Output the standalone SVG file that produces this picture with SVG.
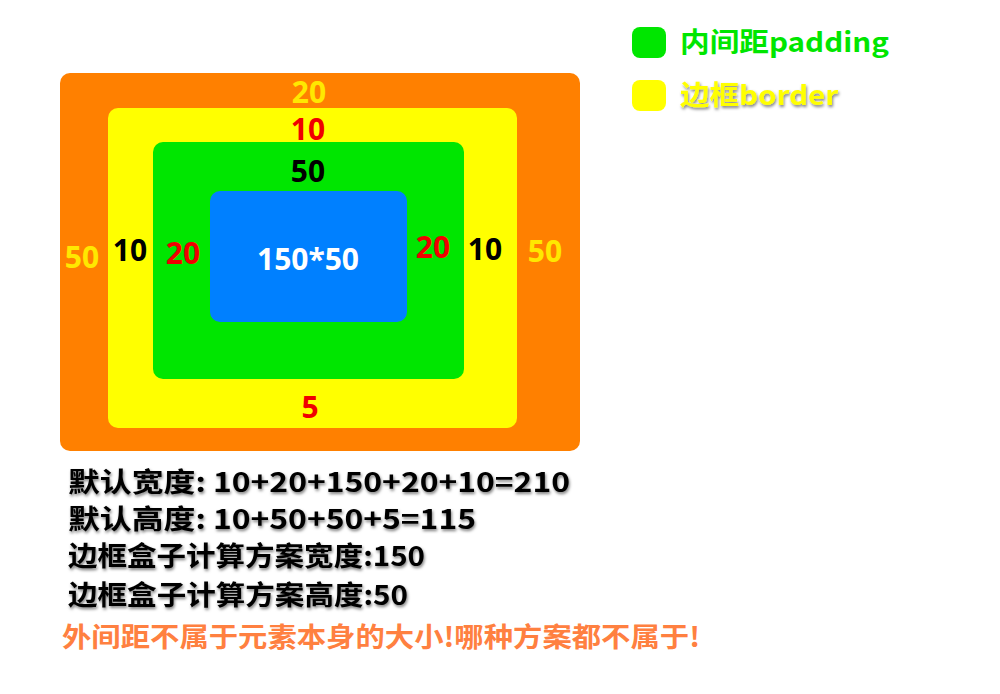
<svg xmlns="http://www.w3.org/2000/svg" width="1000" height="694" viewBox="0 0 1000 694">
<defs>
<filter id="sh" x="-5%" y="-30%" width="110%" height="160%"><feDropShadow dx="1" dy="2" stdDeviation="1.5" flood-color="#000" flood-opacity="0.5"/></filter>
<style>
.n{font-family:"Noto Sans","Open Sans",sans-serif;font-weight:bold;font-size:30px;text-anchor:middle;dominant-baseline:central}
.y{fill:#FFE800}.r{fill:#F00000}.k{fill:#000}
.t{font-family:"Noto Sans CJK SC","Noto Sans",sans-serif;font-weight:bold;font-size:27px}
</style>
</defs>
<rect width="1000" height="694" fill="#fff"/>
<g id="margin"><rect x="60" y="73" width="520" height="378" rx="10" fill="#FF8000"/></g>
<g id="border"><rect x="108" y="108" width="409" height="320" rx="10" fill="#FFFF00"/></g>
<g id="padding"><rect x="153" y="142" width="311" height="237" rx="10" fill="#00E600"/></g>
<g id="content"><rect x="210" y="191" width="197" height="131" rx="10" fill="#0080FF"/>
<text class="n" x="308" y="258" fill="#fff">150*50</text></g>
<g id="labels">
<text class="n y" x="309" y="91">20</text>
<text class="n r" x="308" y="128">10</text>
<text class="n k" x="308" y="170">50</text>
<text class="n y" x="82" y="256">50</text>
<text class="n k" x="130" y="249">10</text>
<text class="n r" x="183" y="252">20</text>
<text class="n r" x="433" y="246">20</text>
<text class="n k" x="485" y="248">10</text>
<text class="n y" x="545" y="250">50</text>
<text class="n r" x="310" y="406">5</text>
</g>
<g id="legend">
<rect x="632" y="27" width="34" height="31" rx="8" fill="#00E600"/>
<text class="t" x="680" y="52" fill="#00E600" font-size="28" textLength="209" lengthAdjust="spacingAndGlyphs">内间距padding</text>
<rect x="632" y="80" width="34" height="31" rx="8" fill="#FFFF00"/>
<text class="t" x="680" y="105" fill="#FFFF00" font-size="28" filter="url(#sh)" textLength="158" lengthAdjust="spacingAndGlyphs">边框border</text>
</g>
<g id="notes" filter="url(#sh)">
<text class="t" x="68" y="492" fill="#000" textLength="502" lengthAdjust="spacingAndGlyphs">默认宽度: 10+20+150+20+10=210</text>
<text class="t" x="68" y="529" fill="#000" textLength="408" lengthAdjust="spacingAndGlyphs">默认高度: 10+50+50+5=115</text>
<text class="t" x="68" y="566" fill="#000" textLength="357" lengthAdjust="spacingAndGlyphs">边框盒子计算方案宽度:150</text>
<text class="t" x="68" y="605" fill="#000" textLength="340" lengthAdjust="spacingAndGlyphs">边框盒子计算方案高度:50</text>
</g>
<text class="t" x="62" y="647" fill="#FF8040" textLength="638" lengthAdjust="spacingAndGlyphs">外间距不属于元素本身的大小!哪种方案都不属于!</text>
</svg>
